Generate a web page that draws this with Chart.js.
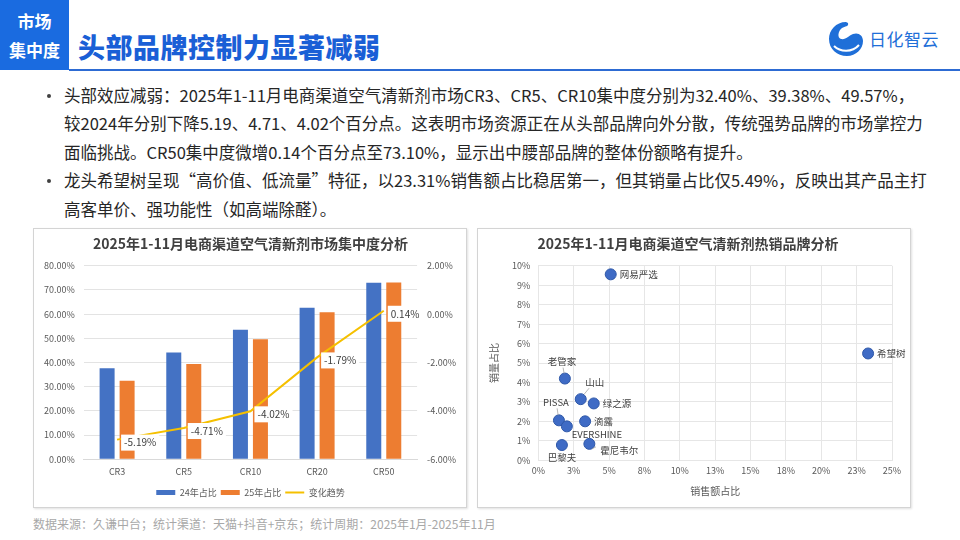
<!DOCTYPE html>
<html>
<head>
<meta charset="utf-8">
<script src="https://cdn.jsdelivr.net/npm/chart.js@4.4.1/dist/chart.umd.min.js"></script>
<style>
  body { margin: 0; width: 960px; height: 540px; background: #fff; position: relative; overflow: hidden;
         font-family: "Noto Sans CJK SC", "Noto Sans", sans-serif; }
  .tag { position: absolute; left: 0; top: 0; width: 69px; height: 70px; background: #1a6be0; color: #fff;
         font-weight: bold; font-size: 17px; text-align: center; line-height: 29px; padding-top: 6px; box-sizing: border-box; }
  .title { position: absolute; left: 78px; top: 28px; font-size: 27px; font-weight: 900; color: #1a5fd6; letter-spacing: 0.5px; line-height: 38px; }
  .rule { position: absolute; left: 69px; top: 69px; width: 891px; height: 2px; background: #2d6bd3; }
  .logo { position: absolute; left: 826px; top: 18px; }
  .logotext { position: absolute; left: 869px; top: 26px; font-size: 17px; color: #1f6fd8; letter-spacing: 0.5px; }
  .text { position: absolute; left: 64px; top: 81px; font-size: 16.5px; color: #262626; line-height: 28.4px; }
  .text .b { position: relative; }
  .text .b::before { content: ""; position: absolute; left: -17px; top: 13px; width: 4px; height: 4px; border-radius: 2px; background: #404040; }
  .box { position: absolute; top: 228px; width: 434px; height: 280px; border: 1px solid #d4d4d4; box-sizing: border-box;
         box-shadow: 1px 1px 2px rgba(0,0,0,0.12); background: #fff; }
  .foot { position: absolute; left: 33px; top: 515px; font-size: 12px; color: #a8a8a8; }
</style>
</head>
<body>
<div class="tag">市场<br>集中度</div>
<div class="title">头部品牌控制力显著减弱</div>
<div class="rule"></div>
<svg class="logo" width="40" height="40" viewBox="0 0 40 40">
  <path d="M20 4 C10 4 3 12 3 21 C3 31 11 38 21 38 C30 38 37 31 37 23 C37 17 32 14 27 16 C22 18 20 22 15 21 C11 20 12 13 16 10 C19 8 23 9 22 5 Z" fill="#1f6fd8"/>
  <path d="M8 28 C14 34 26 35 33 27" stroke="#fff" stroke-width="2" fill="none"/>
</svg>
<div class="logotext">日化智云</div>
<div class="text">
  <div class="b">头部效应减弱：2025年1-11月电商渠道空气清新剂市场CR3、CR5、CR10集中度分别为32.40%、39.38%、49.57%，<br>较2024年分别下降5.19、4.71、4.02个百分点。这表明市场资源正在从头部品牌向外分散，传统强势品牌的市场掌控力<br>面临挑战。CR50集中度微增0.14个百分点至73.10%，显示出中腰部品牌的整体份额略有提升。</div>
  <div class="b">龙头希望树呈现“高价值、低流量”特征，以23.31%销售额占比稳居第一，但其销量占比仅5.49%，反映出其产品主打<br>高客单价、强功能性（如高端除醛）。</div>
</div>
<div class="box" style="left:33px"><canvas id="barChart"></canvas></div>
<div class="box" style="left:477px"><canvas id="scatterChart"></canvas></div>
<div class="foot">数据来源：久谦中台；统计渠道：天猫+抖音+京东；统计周期：2025年1月-2025年11月</div>

<script>
// concentration data
const crLabels = ['CR3', 'CR5', 'CR10', 'CR20', 'CR50'];
const share2024 = [37.59, 44.09, 53.59, 62.60, 72.96];
const share2025 = [32.40, 39.38, 49.57, 60.81, 73.10];
const shareChange = [-5.19, -4.71, -4.02, -1.79, 0.14];

// brand data (percent)
const brands = ['网易严选', '希望树', '老管家', '山山', '绿之源', 'PISSA', 'EVERSHINE', '滴露', '霍尼韦尔', '巴黎夫'];
const salesShare = [5.12, 23.31, 1.88, 3.00, 3.92, 1.46, 2.02, 3.31, 3.61, 1.67];
const volumeShare = [9.56, 5.49, 4.20, 3.14, 2.92, 2.05, 1.74, 2.00, 0.84, 0.78];

const tickColor = '#595959';
const font = 'Noto Sans CJK SC';

const lineLabels = {
  id: 'lineLabels',
  afterDatasetsDraw(chart) {
    const ctx = chart.ctx;
    const meta = chart.getDatasetMeta(2);
    ctx.save();
    ctx.font = '10px "' + font + '"';
    ctx.textBaseline = 'middle';
    meta.data.forEach((pt, i) => {
      const txt = shareChange[i].toFixed(2) + '%';
      const w = ctx.measureText(txt).width;
      const x = pt.x + 4, y = pt.y + 3;
      ctx.fillStyle = '#fff';
      ctx.fillRect(x, y - 8, w + 6, 16);
      ctx.fillStyle = '#404040';
      ctx.fillText(txt, x + 3, y);
    });
    ctx.restore();
  }
};

new Chart(document.getElementById('barChart'), {
  type: 'bar',
  data: {
    labels: crLabels,
    datasets: [
      { label: '24年占比', data: share2024, backgroundColor: '#4472c4', yAxisID: 'y', order: 1, pointStyle: 'rect',
        barPercentage: 0.75, categoryPercentage: 0.6 },
      { label: '25年占比', data: share2025, backgroundColor: '#ed7d31', yAxisID: 'y', order: 1, pointStyle: 'rect',
        barPercentage: 0.75, categoryPercentage: 0.6 },
      { label: '变化趋势', type: 'line', data: shareChange, borderColor: '#f5c000', backgroundColor: '#f5c000',
        borderWidth: 2, pointRadius: 0, yAxisID: 'y1', order: 0, pointStyle: 'line' }
    ]
  },
  options: {
    responsive: true,
    maintainAspectRatio: false,
    animation: false,
    layout: { padding: { left: 1, right: 0, bottom: 0 } },
    plugins: {
      title: { display: true, text: '2025年1-11月电商渠道空气清新剂市场集中度分析', color: '#404040',
               font: { family: font, size: 14, weight: 'bold' }, padding: { top: 6, bottom: 14 } },
      legend: { position: 'bottom', labels: { usePointStyle: true, pointStyleWidth: 19, boxHeight: 5, color: tickColor,
                font: { family: font, size: 9 }, padding: 4, sort: (a, b) => a.datasetIndex - b.datasetIndex } },
      tooltip: { enabled: false }
    },
    scales: {
      x: { grid: { display: false, drawTicks: false }, border: { color: '#d9d9d9' },
           ticks: { color: tickColor, font: { family: font, size: 9 }, padding: 7 } },
      y: { min: 0, max: 80, ticks: { stepSize: 10, color: tickColor, font: { family: font, size: 9 }, padding: 9,
           callback: v => v.toFixed(2) + '%' }, grid: { color: '#e3e3e3', drawTicks: false }, border: { display: false } },
      y1: { position: 'right', min: -6, max: 2, ticks: { stepSize: 2, color: tickColor, font: { family: font, size: 9 },
            padding: 10, callback: v => v.toFixed(2) + '%' }, grid: { display: false, drawTicks: false }, border: { display: false } }
    }
  },
  plugins: [lineLabels]
});

// label placement: [dx, dy, align, leader]
const labelPlace = {
  '网易严选': [9, 0, 'left'], '希望树': [9, 0, 'left'], '绿之源': [9, 0, 'left'], '滴露': [9, 0, 'left'],
  '老管家': [-3, -17, 'center', true], '山山': [14, -17, 'center', true], 'PISSA': [-3, -18, 'center', true],
  'EVERSHINE': [30, 8, 'center'], '霍尼韦尔': [11, 7, 'left', true], '巴黎夫': [0, 12, 'center']
};

const pointLabels = {
  id: 'pointLabels',
  afterDatasetsDraw(chart) {
    const ctx = chart.ctx;
    const meta = chart.getDatasetMeta(0);
    ctx.save();
    ctx.font = '9.5px "' + font + '"';
    ctx.textBaseline = 'middle';
    meta.data.forEach((pt, i) => {
      const p = labelPlace[brands[i]];
      const x = pt.x + p[0], y = pt.y + p[1];
      if (p[3]) {
        ctx.strokeStyle = '#a6a6a6';
        ctx.lineWidth = 0.8;
        ctx.beginPath();
        ctx.moveTo(pt.x + p[0] * 0.25, pt.y + (p[1] < 0 ? -5 : 5));
        ctx.lineTo(pt.x + p[0] * 0.6, y + (p[1] < 0 ? 6 : -4));
        ctx.stroke();
      }
      ctx.textAlign = p[2];
      ctx.fillStyle = '#404040';
      ctx.fillText(brands[i], x, y);
    });
    ctx.restore();
  }
};

new Chart(document.getElementById('scatterChart'), {
  type: 'scatter',
  data: {
    datasets: [{
      label: '品牌',
      data: salesShare.map((s, i) => ({ x: s, y: volumeShare[i] })),
      backgroundColor: '#3f6bc5', borderColor: '#2f58a8', borderWidth: 1, pointRadius: 5.5
    }]
  },
  options: {
    responsive: true,
    maintainAspectRatio: false,
    animation: false,
    layout: { padding: { left: 6, right: 18, bottom: 6 } },
    plugins: {
      title: { display: true, text: '2025年1-11月电商渠道空气清新剂热销品牌分析', color: '#404040',
               font: { family: font, size: 14, weight: 'bold' }, padding: { top: 6, bottom: 14 } },
      legend: { display: false },
      tooltip: { enabled: false }
    },
    scales: {
      x: { min: 0, max: 25, ticks: { stepSize: 2.5, color: tickColor, font: { family: font, size: 9 }, padding: 5,
           callback: v => Math.round(v) + '%' }, grid: { color: '#e6e6e6', drawTicks: false }, border: { color: '#e6e6e6' },
           title: { display: true, text: '销售额占比', color: tickColor, font: { family: font, size: 10 }, padding: 4 } },
      y: { min: 0, max: 10, ticks: { stepSize: 1, color: tickColor, font: { family: font, size: 9 }, padding: 8,
           callback: v => v + '%' }, grid: { color: '#e6e6e6', drawTicks: false }, border: { color: '#e6e6e6' },
           title: { display: true, text: '销量占比', color: tickColor, font: { family: font, size: 10 }, padding: 4 } }
    }
  },
  plugins: [pointLabels]
});
</script>
</body>
</html>
